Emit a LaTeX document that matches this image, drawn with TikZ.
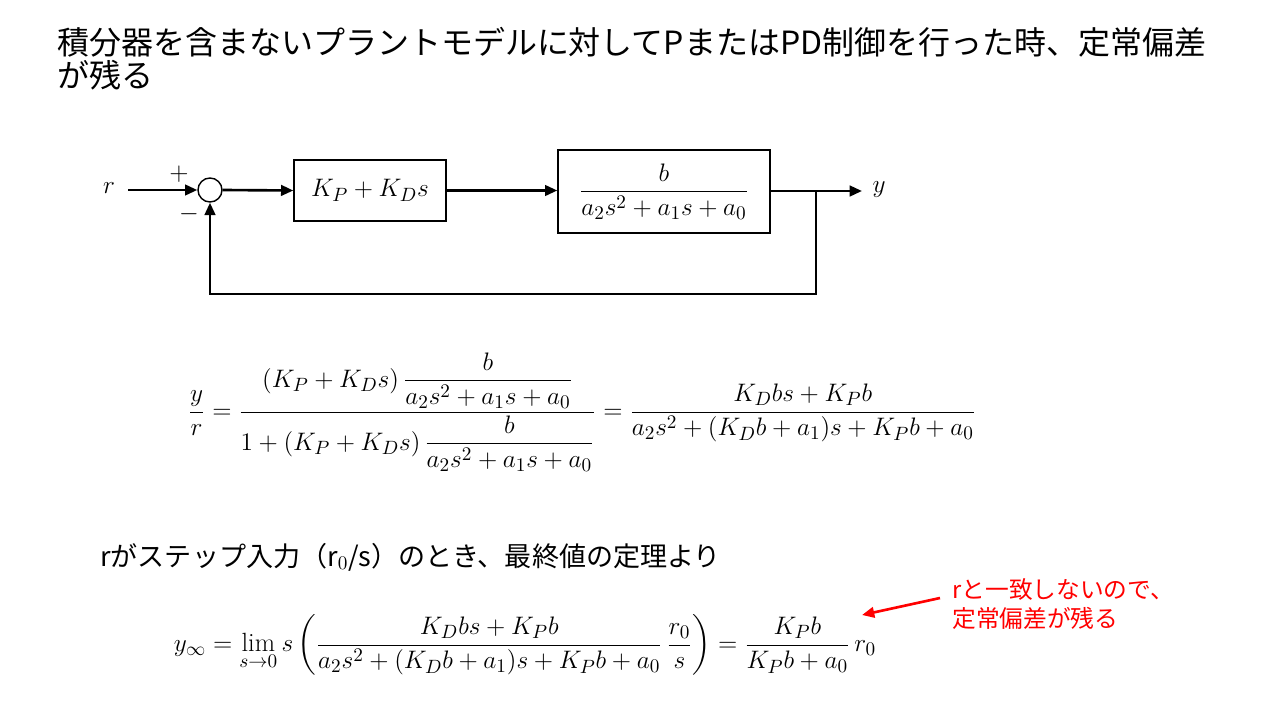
\documentclass[tikz,border=0pt]{standalone}
\usepackage{amsmath}
\usepackage{fontspec}
\newfontfamily\jp{Noto Sans CJK JP}
\usetikzlibrary{arrows.meta}
\begin{document}
\begin{tikzpicture}[x=0.02cm,y=-0.02cm,
  blk/.style={draw,line width=0.8pt,inner sep=0pt},
  sig/.style={line width=1.5pt},
  arr/.style={sig,-{Triangle[length=7pt,width=6pt]}},
  m/.style={font=\fontsize{15}{18}\selectfont},
  every node/.style={inner sep=0pt}]
\useasboundingbox (0,0) rectangle (1280,720);
\node[anchor=west,font=\jp\fontsize{18.2}{22}\selectfont] (t1) at (57,42) {積分器を含まないプラントモデルに対してPまたはPD制御を行った時、定常偏差};
\node[anchor=west,font=\jp\fontsize{18.2}{22}\selectfont] (t2) at (57,75) {が残る};
% block diagram
\node[m] (r) at (109,188) {$r$};
\coordinate (rin) at (128,190);
\node[draw,circle,minimum size=0.48cm,line width=0.8pt] (sum) at (210,190) {};
\node[m] (plus) at (179,174) {$+$};
\node[m] (minus) at (189,214) {$-$};
\node[blk,minimum width=3.04cm,minimum height=1.22cm,m] (c) at (370,190.5) {$K_P+K_Ds$};
\node[blk,minimum width=4.24cm,minimum height=1.66cm,m] (p) at (664,191.5) {$\dfrac{b}{a_2s^2+a_1s+a_0}$};
\node[m] (y) at (879,190) {$y$};
\coordinate (yo) at (862,191);
\coordinate (br) at (816,191);
\draw[arr] (rin) -- (sum.west);
\draw[arr] (sum.east) -- (c.west);
\draw[arr] (c.east) -- (c.east -| p.west);
\draw[arr] (p.east |- yo) -- (yo);
\draw[arr] (br) -- (816,294) -- (210,294) -- (sum.south);
% transfer function
\node[m] (eq1) at (582,412) {$\dfrac{y}{r}=\dfrac{(K_P+K_Ds)\,\dfrac{b}{a_2s^2+a_1s+a_0}}{1+(K_P+K_Ds)\,\dfrac{b}{a_2s^2+a_1s+a_0}}=\dfrac{K_Dbs+K_Pb}{a_2s^2+(K_Db+a_1)s+K_Pb+a_0}$};
\node[anchor=west,font=\jp\fontsize{15.4}{18}\selectfont] (txt) at (100,557) {rがステップ入力（r$_0$/s）のとき、最終値の定理より};
\node[m] (eq2) at (525,645) {$y_\infty=\lim\limits_{s\to0}s\left(\dfrac{K_Dbs+K_Pb}{a_2s^2+(K_Db+a_1)s+K_Pb+a_0}\,\dfrac{r_0}{s}\right)=\dfrac{K_Pb}{K_Pb+a_0}\,r_0$};
\node[anchor=west,text=red,font=\jp\fontsize{13.5}{16.5}\selectfont,align=left] (note) at (952,604) {rと一致しないので、\\定常偏差が残る};
\draw[red,line width=1.5pt,-{Triangle[length=7pt,width=6pt]}] (note.west) ++(-12,-6) -- (862,615);
\end{tikzpicture}
\end{document}
